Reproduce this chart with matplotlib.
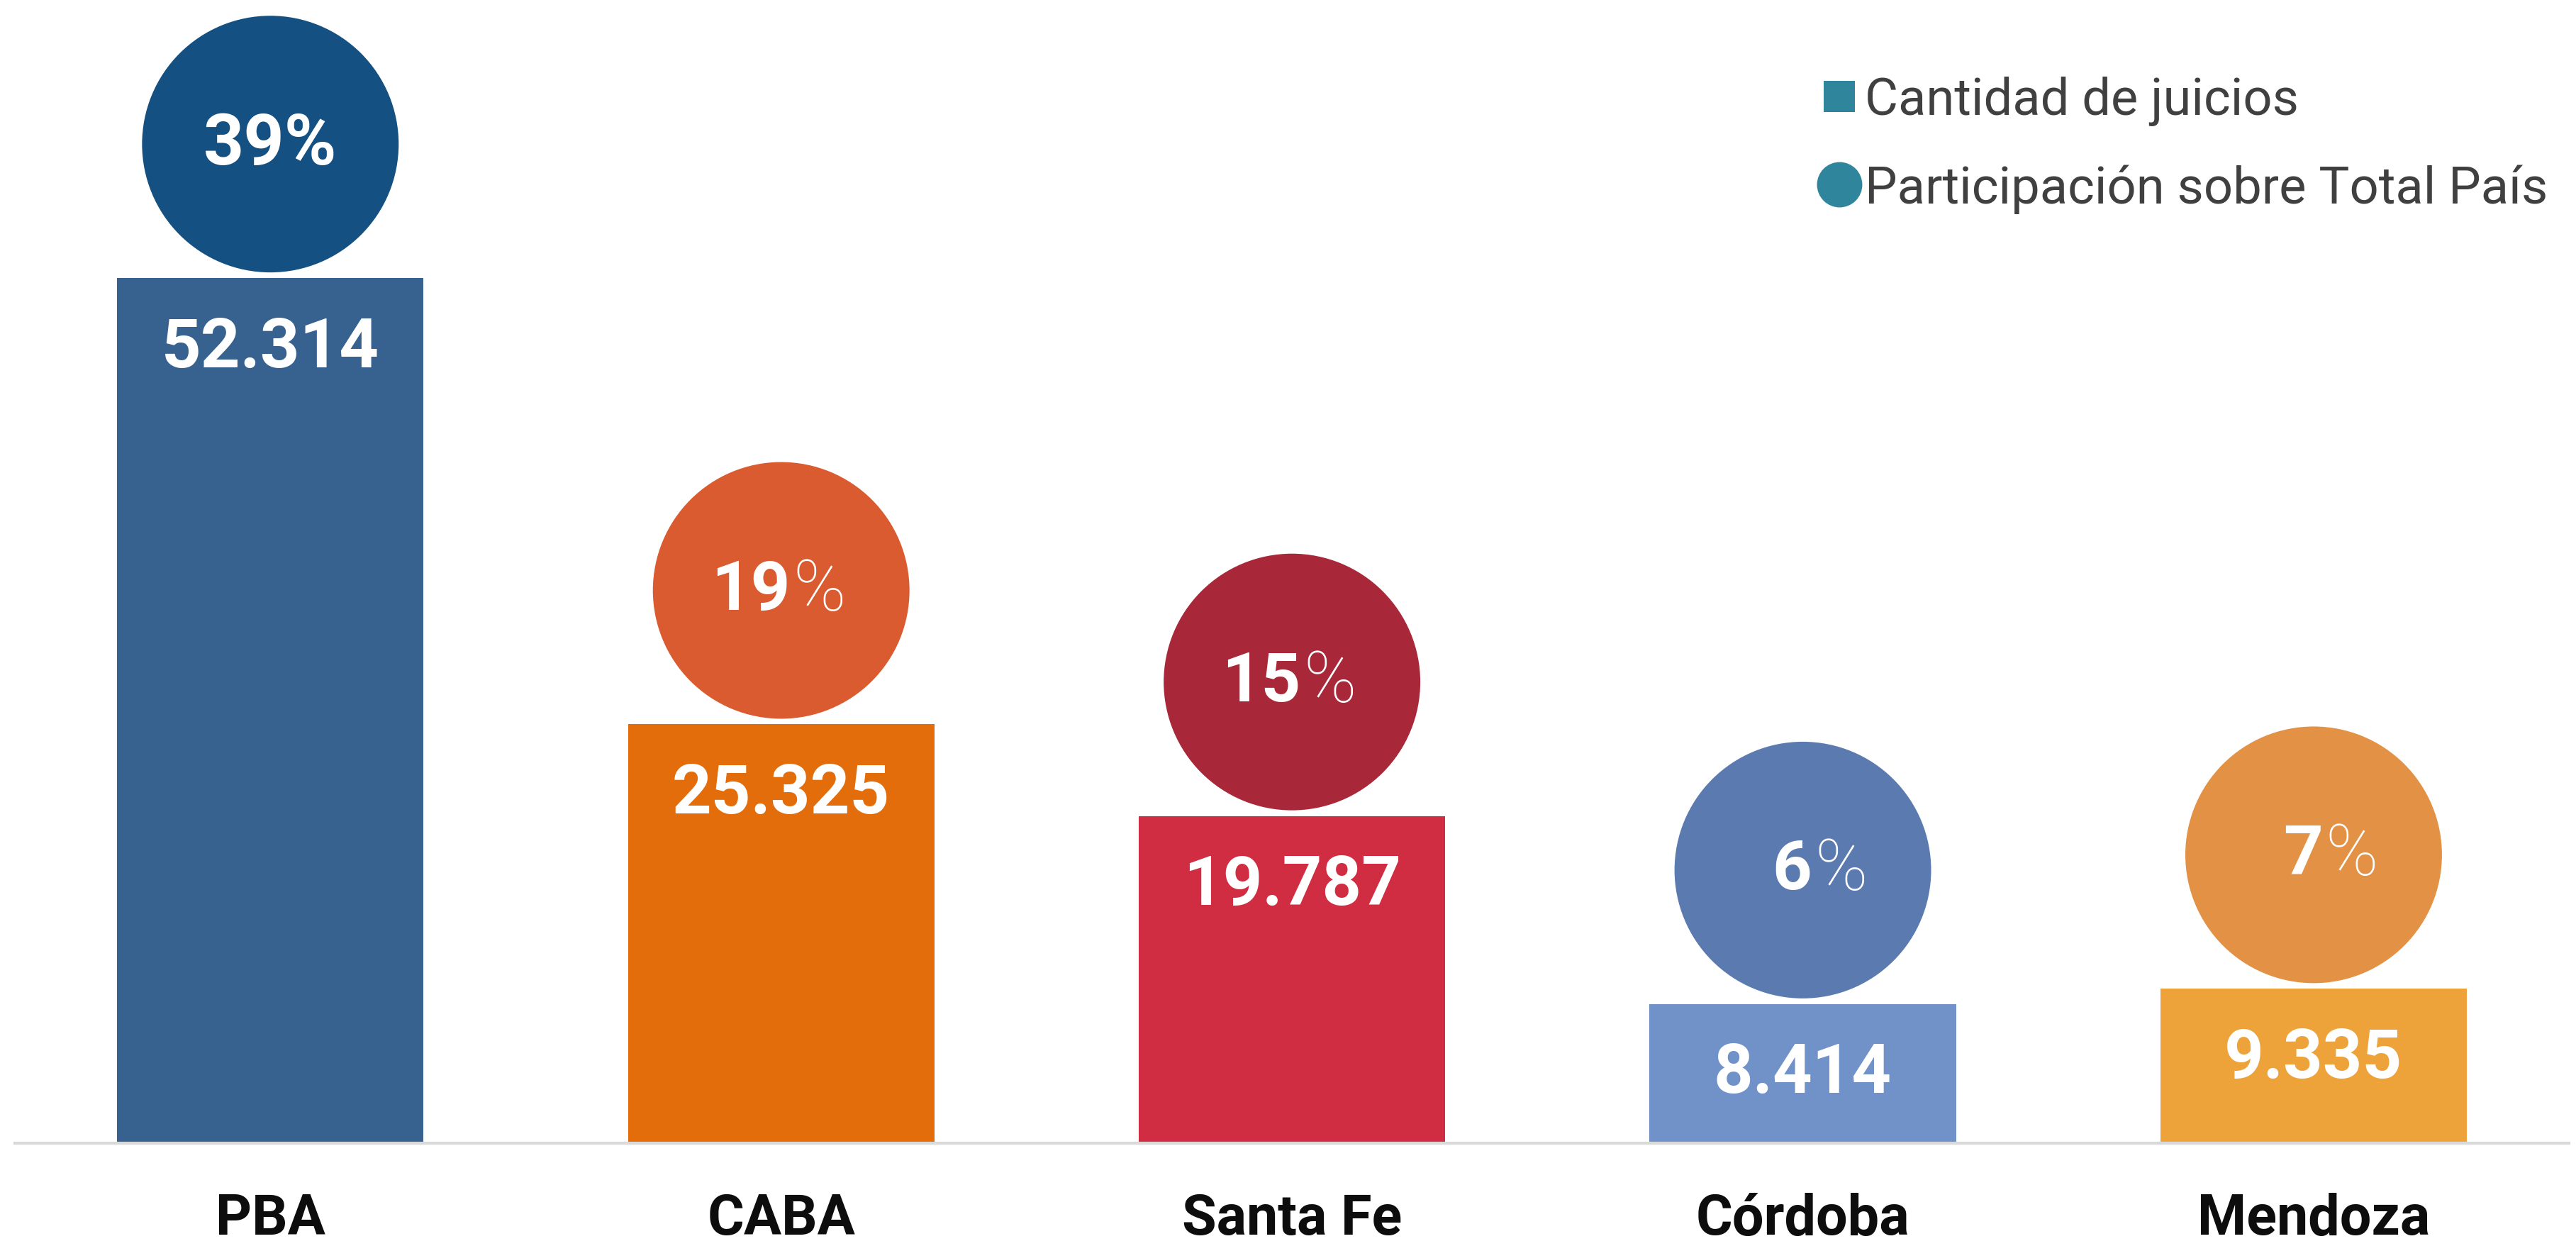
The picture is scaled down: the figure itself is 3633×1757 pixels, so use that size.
import numpy as np
import matplotlib as mpl
import matplotlib.pyplot as plt
from matplotlib.lines import Line2D

mpl.rcParams['font.family'] = ['Roboto', 'DejaVu Sans']

# data
provincias = ['PBA', 'CABA', 'Santa Fe', 'Córdoba', 'Mendoza']
juicios = [52314, 25325, 19787, 8414, 9335]
participacion = [39, 19, 15, 6, 7]

bar_colors = ['#37618F', '#E36C0B', '#D12D42', '#7092C9', '#EDA33A']
bubble_colors = ['#145082', '#DA5B2F', '#A82839', '#5B7AAF', '#E39145']
legend_color = '#2F859B'

fig = plt.figure(figsize=(36.33, 17.58), dpi=100)
ax = fig.add_axes([0.0058, 0.0825, 0.9915, 0.9175])

x = np.arange(len(provincias))
ax.bar(x, juicios, width=0.6, color=bar_colors, zorder=2)
ax.set_xlim(-0.5, 4.5)
ax.set_ylim(0, 69170)

# bubbles sit ~189 px above the top of each bar
bubble_off = 8100
ax.scatter(x, np.array(juicios) + bubble_off, s=67900, c=bubble_colors,
           linewidths=0, zorder=3)

for i, v in enumerate(juicios):
    ax.annotate(f'{v:,}'.replace(',', '.'), (x[i], v), xytext=(0, -71),
                textcoords='offset points', ha='center', va='center',
                color='white', fontsize=70, fontweight='bold', zorder=4)
    yb = v + bubble_off
    if i == 0:
        ax.annotate(f'{participacion[i]}%', (x[i], yb), ha='center', va='center',
                    color='white', fontsize=72, fontweight='bold', zorder=4)
    else:
        ax.annotate(f'{participacion[i]}', (x[i], yb), xytext=(9, 0),
                    textcoords='offset points', ha='right', va='center',
                    color='white', fontsize=70, fontweight='bold', zorder=4)
        ax.annotate('%', (x[i], yb), xytext=(12, 0),
                    textcoords='offset points', ha='left', va='center',
                    color='white', fontsize=72, fontweight='light', zorder=4)

ax.set_xticks(x)
ax.set_xticklabels(provincias, fontsize=57, fontweight='bold', color='#0D0D0D')
ax.tick_params(axis='x', length=0, pad=50)
ax.set_yticks([])
for s in ['top', 'right', 'left']:
    ax.spines[s].set_visible(False)
ax.spines['bottom'].set_color('#D9D9D9')
ax.spines['bottom'].set_linewidth(3)

handles = [
    Line2D([], [], marker='s', linestyle='none', markersize=32,
           markerfacecolor=legend_color, markeredgewidth=0),
    Line2D([], [], marker='o', linestyle='none', markersize=46,
           markerfacecolor=legend_color, markeredgewidth=0),
]
leg = fig.legend(handles, ['Cantidad de juicios', 'Participación sobre Total País'],
                 loc='upper right', bbox_to_anchor=(0.997, 0.955), frameon=False,
                 fontsize=52, handlelength=0.6, handletextpad=0.2,
                 labelspacing=0.75, borderaxespad=0)
for t in leg.get_texts():
    t.set_color('#404040')

fig.savefig('out.png', dpi=100, facecolor='white')
